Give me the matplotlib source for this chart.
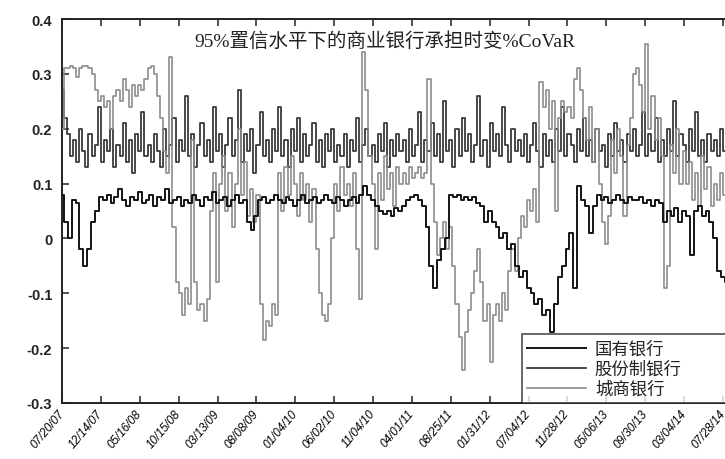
import numpy as np
import matplotlib
matplotlib.use("Agg")
import matplotlib.pyplot as plt

# ---------------- data ----------------
title = "95%置信水平下的商业银行承担时变%CoVaR"
series_names = ["国有银行", "股份制银行", "城商银行"]

x_tick_labels = ["07/20/07", "12/14/07", "05/16/08", "10/15/08", "03/13/09",
                 "08/08/09", "01/04/10", "06/02/10", "11/04/10", "04/01/11",
                 "08/25/11", "01/31/12", "07/04/12", "11/28/12", "05/06/13",
                 "09/30/13", "03/04/14", "07/28/14"]
obs_per_tick = 100
y_ticks = [-0.3, -0.2, -0.1, 0, 0.1, 0.2, 0.3, 0.4]
y_tick_labels = ["-0.3", "-0.2", "-0.1", "0", "0.1", "0.2", "0.3", "0.4"]

# state-owned banks (one value every 10 observations)
step_state = 10
state_owned = [
    0.08, 0.03, 0.00, 0.07, 0.065, -0.02, -0.05, -0.02, 0.03, 0.05,
    0.075, 0.07, 0.08, 0.065, 0.075, 0.09, 0.07, 0.06, 0.075, 0.07,
    0.085, 0.065, 0.07, 0.08, 0.06, 0.075, 0.07, 0.09, 0.065, 0.07,
    0.075, 0.06, 0.07, 0.065, 0.08, 0.07, 0.06, 0.075, 0.07, 0.085,
    0.065, 0.07, 0.075, 0.06, 0.07, 0.08, 0.065, 0.07, 0.03, 0.015,
    0.04, 0.07, 0.075, 0.065, 0.07, 0.08, 0.07, 0.065, 0.075, 0.07,
    0.06, 0.07, 0.08, 0.065, 0.07, 0.075, 0.065, 0.07, 0.08, 0.07,
    0.065, 0.075, 0.07, 0.06, 0.07, 0.075, 0.065, 0.08, 0.095, 0.08,
    0.07, 0.06, 0.05, 0.045, 0.05, 0.04, 0.055, 0.05, 0.06, 0.07,
    0.075, 0.08, 0.07, 0.06, 0.02, -0.05, -0.09, -0.04, -0.02, 0.00,
    0.08, 0.075, 0.08, 0.07, 0.075, 0.07, 0.075, 0.065, 0.06, 0.03,
    0.05, 0.03, 0.02, 0.00, 0.01, -0.02, -0.01, -0.05, -0.07, -0.06,
    -0.09, -0.10, -0.12, -0.11, -0.14, -0.13, -0.17, -0.12, -0.07, -0.05,
    -0.02, 0.01, -0.09, 0.095, 0.07, 0.06, 0.01, 0.06, 0.08, 0.07,
    0.075, 0.065, 0.07, 0.08, 0.07, 0.065, 0.075, 0.07, 0.07, 0.075,
    0.065, 0.07, 0.06, 0.07, 0.065, 0.03, 0.05, 0.04, 0.055, 0.03,
    0.05, 0.04, -0.03, 0.05, 0.06, 0.04, 0.05, 0.03, 0.00, -0.06,
    -0.07, -0.08,
]

# joint-stock banks (one value every 8 observations)
step_joint = 8
joint_stock = [
    0.27, 0.22, 0.19, 0.15, 0.18, 0.14, 0.20, 0.16, 0.13, 0.19,
    0.15, 0.17, 0.24, 0.14, 0.18, 0.16, 0.20, 0.13, 0.17, 0.15,
    0.21, 0.14, 0.18, 0.12, 0.19, 0.16, 0.23, 0.15, 0.17, 0.14,
    0.19, 0.16, 0.13, 0.20, 0.15, 0.17, 0.22, 0.14, 0.18, 0.16,
    0.26, 0.15, 0.19, 0.13, 0.17, 0.21, 0.15, 0.18, 0.14, 0.24,
    0.16, 0.19, 0.13, 0.17, 0.22, 0.15, 0.18, 0.27, 0.14, 0.19,
    0.16, 0.20, 0.12, 0.17, 0.23, 0.15, 0.18, 0.14, 0.20, 0.16,
    0.24, 0.15, 0.18, 0.13, 0.20, 0.16, 0.22, 0.14, 0.19, 0.15,
    0.17, 0.21, 0.14, 0.18, 0.13, 0.19, 0.16, 0.20, 0.14, 0.17,
    0.15, 0.19, 0.13, 0.18, 0.16, 0.22, 0.14, 0.17, 0.20, 0.15,
    0.17, 0.14, 0.19, 0.16, 0.21, 0.13, 0.18, 0.15, 0.19, 0.16,
    0.18, 0.14, 0.20, 0.15, 0.17, 0.23, 0.14, 0.18, 0.16, 0.21,
    0.15, 0.19, 0.14, 0.25, 0.16, 0.18, 0.13, 0.20, 0.15, 0.22,
    0.16, 0.19, 0.14, 0.17, 0.26, 0.15, 0.18, 0.13, 0.21, 0.16,
    0.19, 0.15, 0.24, 0.17, 0.14, 0.20, 0.16, 0.18, 0.15, 0.19,
    0.14, 0.17, 0.21, 0.16, 0.13, 0.19, 0.15, 0.18, 0.14, 0.20,
    0.16, 0.24, 0.15, 0.19, 0.17, 0.14, 0.20, 0.16, 0.22, 0.15,
    0.18, 0.14, 0.20, 0.16, 0.17, 0.13, 0.19, 0.15, 0.21, 0.16,
    0.18, 0.14, 0.19, 0.16, 0.20, 0.15, 0.17, 0.23, 0.15, 0.19,
    0.16, 0.22, 0.14, 0.18, 0.15, 0.20, 0.16, 0.25, 0.15, 0.19,
    0.17, 0.14, 0.20, 0.16, 0.23, 0.15, 0.18, 0.14, 0.19, 0.16,
    0.18, 0.15, 0.20, 0.16, 0.17,
]

# city commercial banks (one value every 8 observations)
step_city = 8
city_commercial = [
    0.20, 0.31, 0.31, 0.315, 0.31, 0.295, 0.31, 0.315, 0.315, 0.31,
    0.30, 0.27, 0.25, 0.26, 0.24, 0.25, 0.20, 0.26, 0.27, 0.25,
    0.29, 0.27, 0.24, 0.28, 0.26, 0.28, 0.27, 0.29, 0.31, 0.315,
    0.30, 0.26, 0.22, 0.16, 0.12, 0.33, 0.02, -0.08, -0.10, -0.14,
    -0.09, -0.12, 0.18, -0.08, -0.13, -0.12, -0.15, -0.11, 0.05, 0.12,
    -0.08, 0.10, 0.15, 0.05, 0.12, 0.02, 0.10, 0.20, 0.08, 0.14,
    0.04, 0.09, 0.03, 0.08, -0.12, -0.185, -0.15, -0.16, -0.12, -0.14,
    0.12, 0.05, 0.13, 0.08, 0.15, 0.10, 0.04, 0.12, 0.07, 0.10,
    0.03, 0.09, -0.02, -0.10, -0.14, -0.15, -0.12, 0.00, 0.10, 0.05,
    0.13, 0.08, 0.10, 0.06, 0.12, -0.02, -0.11, 0.34, 0.27, 0.15,
    0.10, -0.02, 0.12, 0.07, 0.15, 0.09, 0.12, 0.06, 0.13, 0.10,
    0.12, 0.10, 0.13, 0.11, 0.12, 0.13, 0.11, 0.12, 0.29, 0.10,
    0.03, -0.03, 0.00, 0.03, -0.02, 0.02, -0.05, -0.12, -0.18, -0.24,
    -0.17, -0.13, -0.10, -0.06, -0.02, -0.08, -0.15, -0.12, -0.225, -0.14,
    -0.12, -0.15, -0.10, -0.13, -0.06, -0.02, -0.06, 0.00, 0.04, 0.02,
    0.07, 0.05, 0.09, 0.03, 0.285, 0.24, 0.27, 0.20, 0.25, 0.05,
    0.22, 0.25, 0.23, 0.24, 0.22, 0.29, 0.31, 0.27, 0.22, 0.18,
    0.24, 0.14, 0.20, 0.10, 0.03, -0.01, 0.04, 0.18, 0.12, 0.20,
    0.15, 0.04, 0.17, 0.22, 0.30, 0.31, 0.28, 0.23, 0.355, 0.20,
    0.26, 0.18, 0.22, 0.15, -0.09, -0.05, 0.17, 0.12, 0.20, 0.10,
    0.16, 0.10, 0.14, 0.07, 0.12, 0.06, 0.15, 0.09, 0.13, 0.06,
    0.10, 0.07, 0.12, 0.08, 0.10,
]

# ---------------- figure ----------------
W, H = 725, 460
fig = plt.figure(figsize=(W / 100, H / 100), dpi=100)
fig.patch.set_facecolor("white")

x0_px, x_last_tick_px = 62, 723
px_per_obs = (x_last_tick_px - x0_px) / ((len(x_tick_labels) - 1) * obs_per_tick)
xmax = 1800
ax_w_px = xmax * px_per_obs
ax = fig.add_axes([x0_px / W, (H - 404) / H, ax_w_px / W, 384 / H])

c_state, c_joint, c_city = "#141414", "#3a3a3a", "#8c8c8c"
xs = np.arange(len(state_owned)) * step_state
xj = np.arange(len(joint_stock)) * step_joint
xc = np.arange(len(city_commercial)) * step_city

l2, = ax.plot(xj, joint_stock, color=c_joint, lw=1.3, zorder=2,
              drawstyle="steps-mid")
l3, = ax.plot(xc, city_commercial, color=c_city, lw=1.2, zorder=3,
              drawstyle="steps-mid")
l1, = ax.plot(xs, state_owned, color=c_state, lw=1.4, zorder=4,
              drawstyle="steps-mid")

ax.set_xlim(0, xmax)
ax.set_ylim(-0.3, 0.4)
ax.set_xticks(np.arange(len(x_tick_labels)) * obs_per_tick)
ax.set_xticklabels(x_tick_labels, rotation=50, ha="right", va="center",
                   rotation_mode="anchor", fontsize=8.5,
                   family="Liberation Sans", style="italic")
ax.set_yticks(y_ticks)
ax.set_yticklabels(y_tick_labels, fontsize=10.5, family="Liberation Sans",
                   weight="bold", color="#222222")
ax.tick_params(axis="both", direction="in", length=5, width=1.1,
               top=True, right=True, color="#222222")
ax.tick_params(axis="y", pad=7)
ax.tick_params(axis="x", pad=6)
for s in ax.spines.values():
    s.set_linewidth(1.4)
    s.set_color("#222222")

leg = ax.legend([l1, l2, l3], series_names, loc="lower left",
                bbox_to_anchor=((522 - x0_px) / ax_w_px, 0.0, 0.5, 0.2),
                mode="expand", ncol=1, frameon=True, fancybox=False,
                borderaxespad=0.0, borderpad=0.3, labelspacing=0.12,
                handlelength=3.4, handletextpad=0.5,
                prop={"family": ["Noto Sans CJK SC"], "size": 12.5})
leg.get_frame().set_edgecolor("#222222")
leg.get_frame().set_linewidth(1.2)
leg.set_zorder(10)
for t in leg.get_texts():
    t.set_color("#222222")

fig.text(385 / W, 1 - 42 / H, title, ha="center", va="center",
         fontsize=14, color="#222222",
         family=["Liberation Serif", "Noto Sans CJK SC"])

fig.savefig("out.png", dpi=100, facecolor="white")
